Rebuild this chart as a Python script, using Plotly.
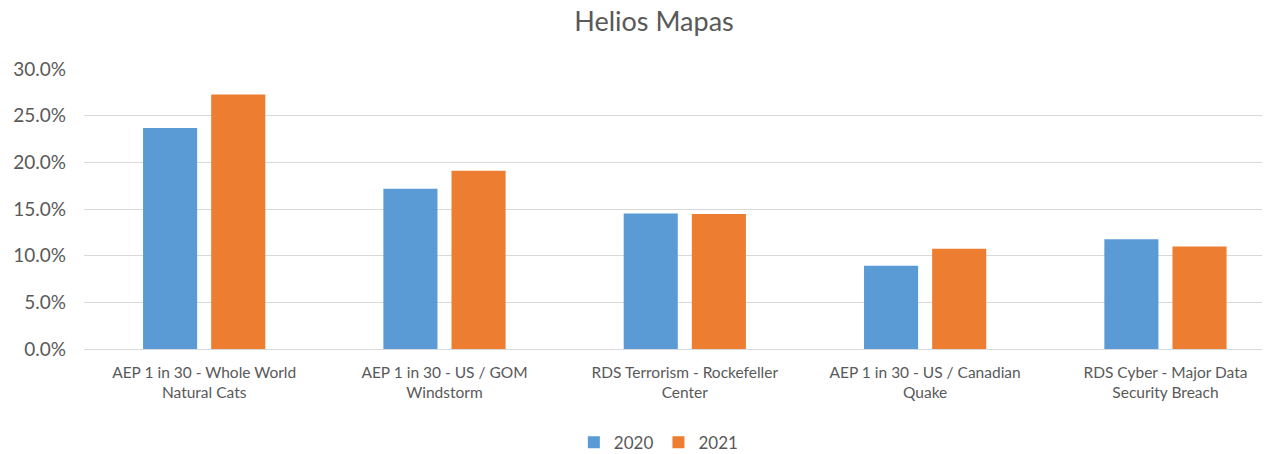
import plotly.graph_objects as go

categories = [
    "AEP 1 in 30 - Whole World<br>Natural Cats",
    "AEP 1 in 30 - US / GOM<br>Windstorm",
    "RDS Terrorism - Rockefeller<br>Center",
    "AEP 1 in 30 - US / Canadian<br>Quake",
    "RDS Cyber - Major Data<br>Security Breach",
]
values_2020 = [0.2368, 0.1718, 0.1453, 0.0893, 0.1175]
values_2021 = [0.2728, 0.1910, 0.1447, 0.1075, 0.1099]
tick_vals = [0, 0.05, 0.10, 0.15, 0.20, 0.25, 0.30]
tick_text = ["0.0%", "5.0%", "10.0%", "15.0%", "20.0%", "25.0%", "30.0%"]

FONT = "Lato, 'Open Sans', sans-serif"
TXT = "#595959"

W, H = 1262, 446  # page body has an 8px margin

fig = go.Figure()
fig.add_trace(go.Bar(name="2020", x=categories, y=values_2020,
                     marker=dict(color="#5B9BD5", line=dict(width=0))))
fig.add_trace(go.Bar(name="2021", x=categories, y=values_2021,
                     marker=dict(color="#ED7D31", line=dict(width=0))))

fig.update_layout(
    width=W, height=H,
    paper_bgcolor="white", plot_bgcolor="white",
    margin=dict(l=76.4, r=0, t=61.3, b=104.7, autoexpand=False),
    barmode="group", bargap=0.433, bargroupgap=0.206,
    font=dict(family=FONT, color=TXT, size=16),
    title=dict(text="Helios Mapas", font=dict(size=27, color=TXT, family=FONT),
               x=646/W, xref="container", xanchor="center",
               y=1-4/H, yref="container", yanchor="top"),
    legend=dict(orientation="h", x=0.4847, xanchor="center", y=-0.335, yanchor="middle",
                font=dict(size=17, color=TXT), itemwidth=30, traceorder="normal"),
    xaxis=dict(range=[-0.5, 4.435], showgrid=False, showline=True, linecolor="#D9D9D9",
               linewidth=1, ticks="", automargin=False, ticklabelstandoff=9,
               tickfont=dict(size=15.5, color=TXT)),
    yaxis=dict(range=[0, 0.3], tickvals=tick_vals, ticktext=tick_text, showgrid=True,
               gridcolor="#D9D9D9", gridwidth=1, zeroline=False, ticks="", automargin=False,
               tickfont=dict(size=19, color=TXT), ticklabelstandoff=17),
)

fig.write_html("out.html")
